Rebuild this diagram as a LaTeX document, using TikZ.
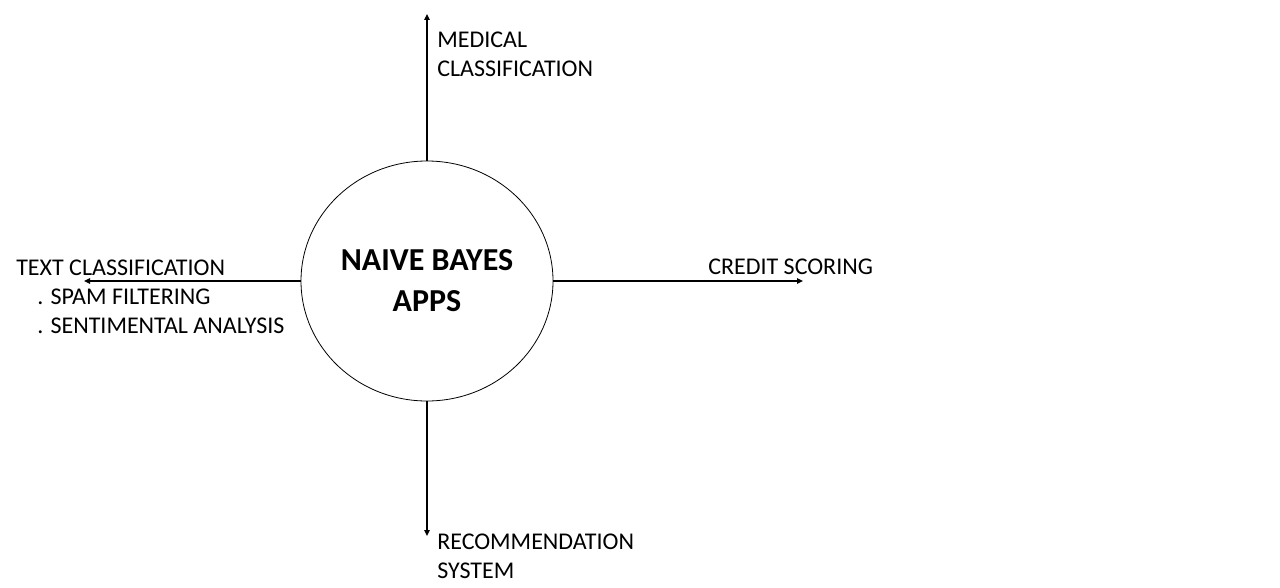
\documentclass[tikz,border=0pt]{standalone}
\usepackage{fontspec}
\setmainfont{Carlito}
\usetikzlibrary{positioning,arrows.meta,shapes.geometric}

\begin{document}
\begin{tikzpicture}[
  x=0.75pt, y=-0.75pt,
  font=\fontsize{18}{21.75}\selectfont,
  >={Triangle[length=4.5pt,width=4pt]},
  hub/.style={ellipse, draw=black, line width=0.6pt, inner sep=0pt, align=center,
    minimum width=189pt, minimum height=180pt,
    font=\bfseries\fontsize{24}{30.75}\selectfont},
  spoke/.style={->, line width=1.1pt, black},
  lab/.style={inner sep=0pt, align=left}
]
\useasboundingbox (0,0) rectangle (1280,588);

% ---------------------------------------------------------------- centre
\node[hub] (nb) at (427,281) {NAIVE BAYES\\APPS};

% ---------------------------------------------------------------- arrow ends
\coordinate (up) at (427,14);
\coordinate (rt) at (803,281);
\coordinate (dn) at (427,536);
\coordinate (lt) at (84,281);

\draw[spoke] (nb.north) -- (up);
\draw[spoke] (nb.east) -- (rt);
\draw[spoke] (nb.south) -- (dn);
\draw[spoke] (nb.west) -- (lt);

% ---------------------------------------------------------------- labels
\node[lab, anchor=base west] (med) at (437,77) {MEDICAL\\CLASSIFICATION};
\node[lab, anchor=base west] (cred) at (708,274) {CREDIT SCORING};
\node[lab, anchor=base west] (txt) at (16,333) {TEXT CLASSIFICATION\\
  \hspace*{15.75pt}. SPAM FILTERING\\
  \hspace*{15.75pt}. SENTIMENTAL ANALYSIS};
\node[lab, anchor=base west] (rec) at (437,578) {RECOMMENDATION\\SYSTEM};
\end{tikzpicture}
\end{document}
